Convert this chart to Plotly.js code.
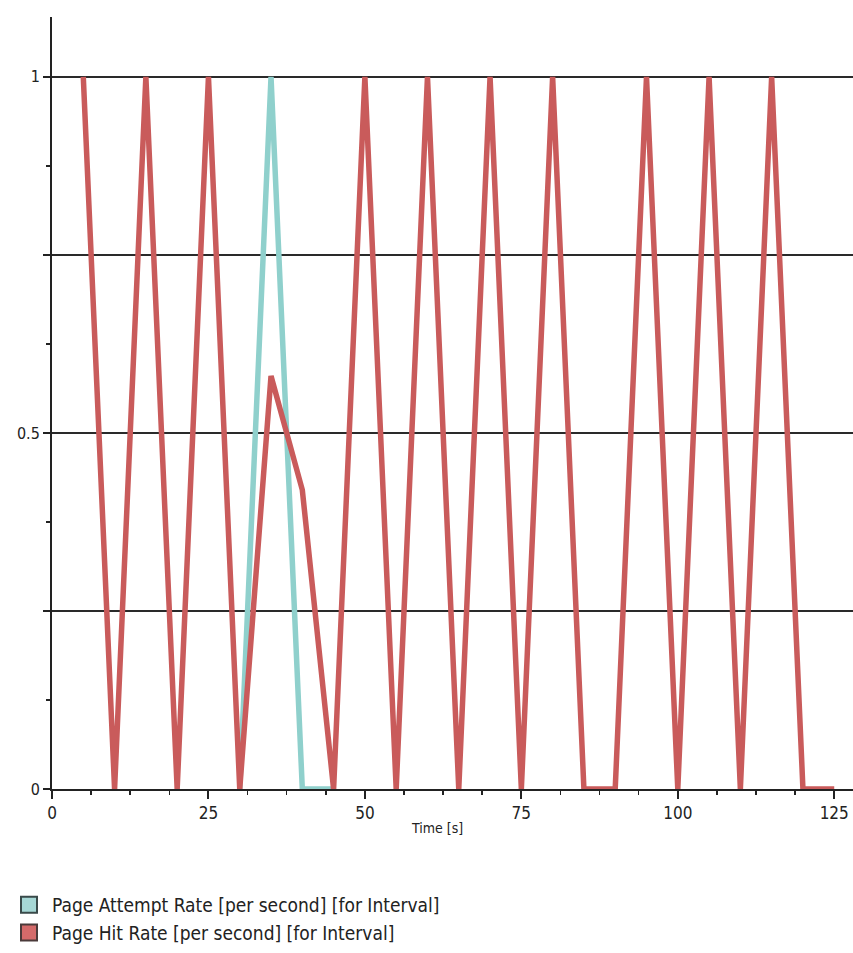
<!DOCTYPE html>
<html>
<head>
<meta charset="utf-8">
<script src="https://cdn.plot.ly/plotly-3.0.1.min.js"></script>
<style>html,body{margin:0;padding:0;background:#fff;}#chart{width:853px;height:953px;}</style>
</head>
<body>
<div id="chart"></div>
<script>
// Data
const attemptTime = [30, 35, 40, 45];
const attemptRate = [0, 1, 0, 0];
const hitTime = [5, 10, 15, 20, 25, 30, 35, 40, 45, 50, 55, 60, 65, 70, 75, 80, 85, 90, 95, 100, 105, 110, 115, 120, 125];
const hitRate = [1, 0, 1, 0, 1, 0, 0.58, 0.42, 0, 1, 0, 1, 0, 1, 0, 1, 0, 0, 1, 0, 1, 0, 1, 0, 0];
const seriesNames = ['Page Attempt Rate [per second] [for Interval]', 'Page Hit Rate [per second] [for Interval]'];
const xTickVals = [0, 25, 50, 75, 100, 125];
const yTickVals = [0, 0.25, 0.5, 0.75, 1];
const yTickText = ['0', '', '0.5', '', '1'];

const teal = '#8fd0cc';
const red = '#c95b5b';
const font = 'DejaVu Sans Condensed, DejaVu Sans, sans-serif';

const traces = [
  {x: attemptTime, y: attemptRate, mode: 'lines', line: {color: teal, width: 5.5}, showlegend: false, hoverinfo: 'skip'},
  {x: hitTime, y: hitRate, mode: 'lines', line: {color: red, width: 5.5}, showlegend: false, hoverinfo: 'skip'},
  {x: [null], y: [null], mode: 'markers', name: seriesNames[0], marker: {symbol: 'square', size: 16, color: '#a6d8d6', line: {color: '#3a4a4a', width: 2}}},
  {x: [null], y: [null], mode: 'markers', name: seriesNames[1], marker: {symbol: 'square', size: 16, color: '#d46a6a', line: {color: '#4a3a3a', width: 2}}}
];

const layout = {
  width: 853, height: 953,
  margin: {l: 52, r: 0, t: 17, b: 164},
  paper_bgcolor: '#fff', plot_bgcolor: '#fff',
  font: {family: font, size: 17, color: '#222'},
  xaxis: {
    range: [0, 128], tickvals: xTickVals, ticktext: xTickVals.map(String),
    showgrid: false, zeroline: false, showline: true, linecolor: '#222', linewidth: 2,
    ticks: 'outside', ticklen: 8, tickwidth: 2, tickcolor: '#222',
    minor: {dtick: 6.25, tick0: 0, ticks: 'outside', ticklen: 4, tickwidth: 1.5, tickcolor: '#222', showgrid: false},
    tickfont: {size: 17, family: font, color: '#222'},
    fixedrange: true
  },
  yaxis: {
    range: [0, 1.084], tickvals: yTickVals, ticktext: yTickText,
    showgrid: true, gridcolor: '#2a2a2a', gridwidth: 2,
    zeroline: false, showline: true, linecolor: '#222', linewidth: 2,
    ticks: 'outside', ticklen: 7, tickwidth: 2, tickcolor: '#222',
    minor: {dtick: 0.125, tick0: 0, ticks: 'outside', ticklen: 4, tickwidth: 1.5, tickcolor: '#222', showgrid: false},
    tickfont: {size: 16, family: font, color: '#222'},
    fixedrange: true
  },
  annotations: [
    {text: 'Time [s]', xref: 'paper', yref: 'paper', x: (437 - 52) / 801, y: -39 / 772, xanchor: 'center', yanchor: 'middle', showarrow: false, font: {size: 14, family: font, color: '#222'}}
  ],
  legend: {
    x: -46 / 801, y: -97 / 772, xanchor: 'left', yanchor: 'top',
    font: {size: 19, family: font, color: '#222'},
    bgcolor: 'rgba(0,0,0,0)', tracegroupgap: 0, itemsizing: 'trace', itemwidth: 36
  },
  showlegend: true
};

Plotly.newPlot('chart', traces, layout, {displayModeBar: false, staticPlot: true});
</script>
</body>
</html>
